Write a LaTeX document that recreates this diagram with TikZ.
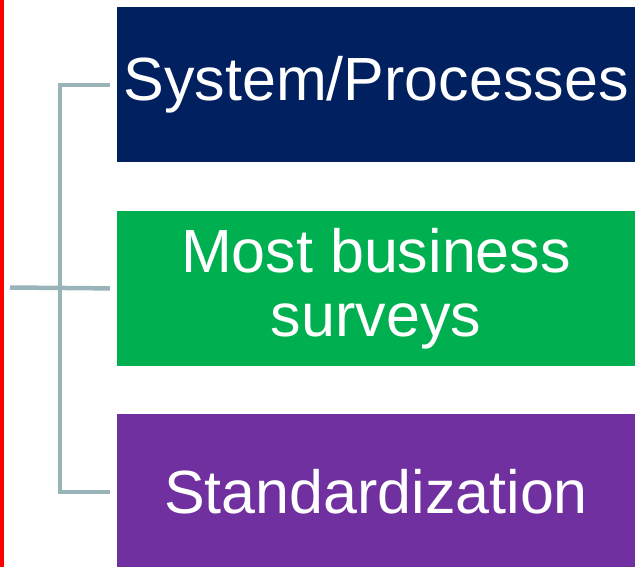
\documentclass[tikz,border=0pt]{standalone}
\usepackage{fontspec}
\setmainfont{Liberation Sans}
\usetikzlibrary{positioning}

\definecolor{navyblue}{HTML}{002060}
\definecolor{leafgreen}{HTML}{00B050}
\definecolor{plum}{HTML}{7030A0}
\definecolor{slategray}{HTML}{98B4B8}

\tikzset{
  itembox/.style={anchor=center, minimum width=518pt, minimum height=155pt,
    inner sep=0pt, text=white, align=center,
    font=\fontsize{61pt}{64pt}\selectfont},
  conn/.style={draw=slategray, line width=4.5pt}
}

\begin{document}
\begin{tikzpicture}

  \useasboundingbox (0pt,0pt) rectangle (635pt,-567pt);

  %% left margin rule
  \draw[red, line width=4pt] (2pt,0pt) -- (2pt,-567pt);

  %% items
  \node[itembox, fill=navyblue] (sys) at (376pt,-85pt) {System/Processes};
  \node[itembox, fill=leafgreen, below=48pt of sys] (surv) {Most business\\surveys};
  \node[itembox, fill=plum, below=48pt of surv] (std) {Standardization};

  %% bracket
  \coordinate (stub) at (10pt,-287.5pt);
  \draw[conn] ([xshift=-7pt]sys.west) -| ([xshift=-57pt]std.west)
    -- ([xshift=-7pt]std.west);
  \draw[conn] (stub) -- ([xshift=-7pt]surv.west);

\end{tikzpicture}
\end{document}
